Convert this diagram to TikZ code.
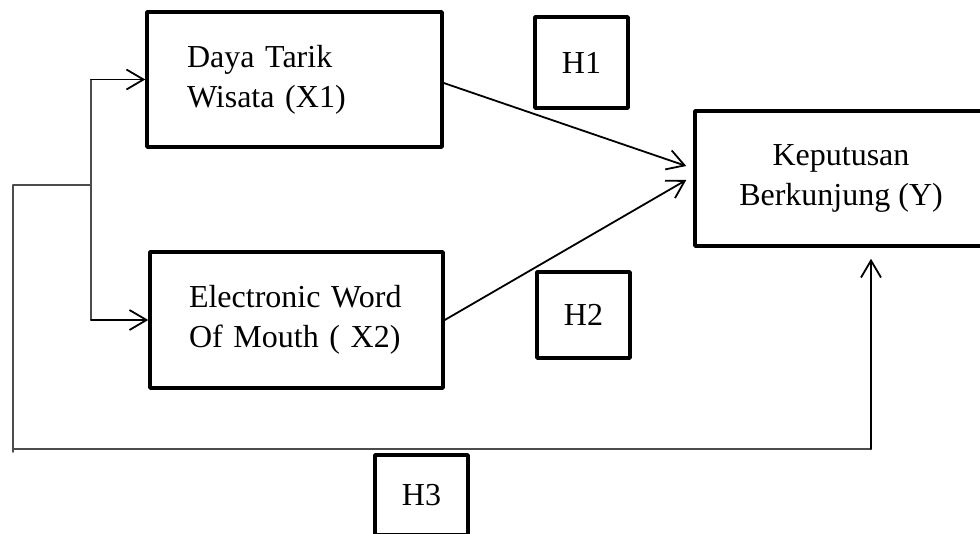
\documentclass[tikz,border=0pt]{standalone}
\usepackage{fontspec}
\setmainfont{Liberation Serif}
\usetikzlibrary{arrows.meta}

\begin{document}
\begin{tikzpicture}[line cap=round,line join=round,x=1pt,y=-1pt,
  >={Straight Barb[length=17pt,width=20pt]},
  varbox/.style={draw,line width=3.5pt,inner sep=0pt,font=\fontsize{32}{40}\selectfont},
  hbox/.style={draw,line width=3.5pt,minimum width=93pt,font=\fontsize{32}{40}\selectfont},
  link/.style={line width=1.8pt},
  feed/.style={line width=1.5pt,draw=black!70}]
\useasboundingbox (0,0) rectangle (980,533);
\clip (0,0) rectangle (980,533);

\node[varbox,minimum width=295pt,minimum height=135pt,text width=215pt,align=left] (x1) at (294.5,79.5) {Daya Tarik\\Wisata (X1)};
\node[varbox,minimum width=293pt,minimum height=136pt,text width=215pt,align=left] (x2) at (296.5,320) {Electronic Word\\Of Mouth ( X2)};
\node[varbox,minimum width=292pt,minimum height=135pt,align=center] (y) at (841,178.5) {Keputusan\\Berkunjung (Y)};

\node[hbox,minimum height=91pt] (h1) at (581.5,62.5) {H1};
\node[hbox,minimum height=86pt] (h2) at (583.5,315) {H2};
\node[hbox,minimum height=80pt] (h3) at (421.5,495) {H3};

\coordinate (fork) at (91,185);
\coordinate (root) at (13,185);
\coordinate (base) at (13,452);
\coordinate (low) at (13,449);
\coordinate (corner) at (871,449);

\draw[feed] (root) -- (fork);
\draw[feed] (root) -- (base);
\draw[feed] (fork |- x1.west) -- (fork |- x2.west);
\draw[link,->] (fork |- x1.west) -- (x1.west);
\draw[link,->] (fork |- x2.west) -- (x2.west);

\draw[link,->] ([yshift=-3.5pt]x1.east) -- ([shift={(-7,-12.5)}]y.west);
\draw[link,->] (x2.east) -- ([shift={(-7,1.5)}]y.west);

\draw[feed] (low) -- (corner);
\draw[link,->] (corner) -- ([yshift=-11pt]y.south -| corner);

\end{tikzpicture}
\end{document}
